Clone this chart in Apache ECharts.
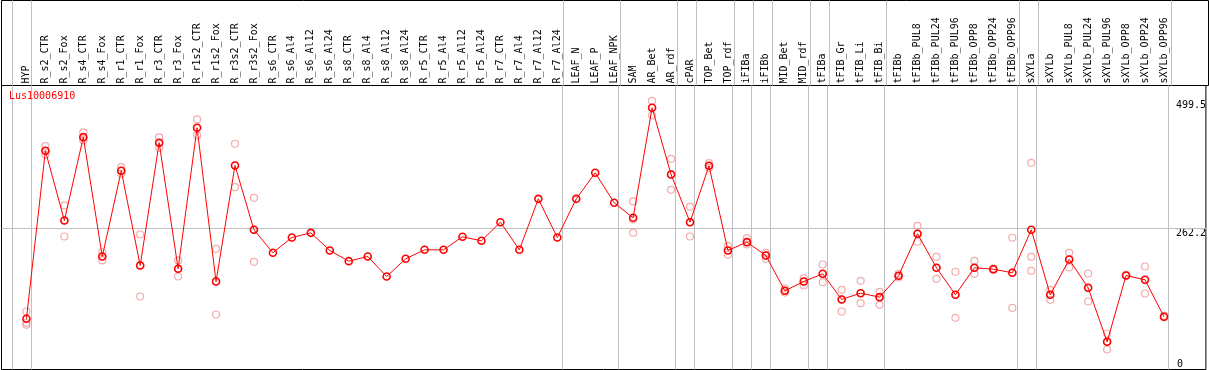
<!DOCTYPE html>
<html>
<head>
<meta charset="utf-8">
<script src="https://cdn.jsdelivr.net/npm/echarts@6/dist/echarts.min.js"></script>
<style>
html,body{margin:0;padding:0;background:#fff;}
#chart{width:1209px;height:370px;}
</style>
</head>
<body>
<div id="chart"></div>
<script>
const geneName = 'Lus10006910';

const categories = [
  'HYP','R_s2_CTR','R_s2_Fox','R_s4_CTR','R_s4_Fox','R_r1_CTR','R_r1_Fox','R_r3_CTR','R_r3_Fox',
  'R_r1s2_CTR','R_r1s2_Fox','R_r3s2_CTR','R_r3s2_Fox','R_s6_CTR','R_s6_Al4','R_s6_Al12','R_s6_Al24',
  'R_s8_CTR','R_s8_Al4','R_s8_Al12','R_s8_Al24','R_r5_CTR','R_r5_Al4','R_r5_Al12','R_r5_Al24',
  'R_r7_CTR','R_r7_Al4','R_r7_Al12','R_r7_Al24','LEAF_N','LEAF_P','LEAF_NPK','SAM','AR_Bet','AR_rdf',
  'cPAR','TOP_Bet','TOP_rdf','iFIBa','iFIBb','MID_Bet','MID_rdf','tFIBa','tFIB_Gr','tFIB_Li','tFIB_Bi',
  'tFIBb','tFIBb_PUL8','tFIBb_PUL24','tFIBb_PUL96','tFIBb_OPP8','tFIBb_OPP24','tFIBb_OPP96',
  'sXYLa','sXYLb','sXYLb_PUL8','sXYLb_PUL24','sXYLb_PUL96','sXYLb_OPP8','sXYLb_OPP24','sXYLb_OPP96'
];

const means = [
  94.3, 406.6, 277, 432, 210, 369.4, 193.4, 421.5, 187.2,
  449.4, 163.6, 379.3, 259.7, 217, 245.4, 254.1, 221.3,
  201.4, 210.1, 172.9, 205.8, 222.5, 222.5, 246.7, 239.3,
  273.9, 222.5, 317.3, 245.4, 317.3, 365.7, 309.9, 282, 486.6, 362.6,
  273.9, 378.7, 221.3, 236.8, 212, 146.3, 163.6, 177.9, 130.2, 141.9, 134.5,
  174.2, 252.3, 189.1, 138.9, 189.1, 186.5, 179.8,
  259.7, 138.9, 204.5, 151.9, 51.5, 174.8, 166.8, 98
];

const replicates = [
  [107.8, 86.8, 83.1], [415.2, 406.6, 399.2], [305, 277, 247.3], [440.7, 432, 425.8], [218, 210, 202.7],
  [376.2, 369.4, 363.9], [251, 193.4, 135.7], [431.4, 421.5, 412.2], [202.7, 187.2, 172.9],
  [464.9, 449.4, 435.1], [224.4, 163.6, 102.3], [419.7, 379.3, 339], [319.2, 259.7, 200.2],
  [], [], [], [], [], [], [], [], [], [], [], [], [], [], [], [], [], [], [],
  [312.4, 279, 254.2], [499.5, 486.6, 472.3], [391.7, 362.6, 334.1],
  [302.5, 273.9, 247.3], [383.6, 378.7, 375], [229.3, 221.3, 213.3], [244.2, 236.8, 232.4], [217, 212, 205.8],
  [150.6, 146.3, 143], [169.8, 163.6, 156.2], [195.2, 177.9, 162.3], [148.2, 130.2, 107.8],
  [164.9, 141.9, 123.3], [144.5, 134.5, 120.3],
  [178, 174.2, 171], [267.2, 252.3, 237.5], [209.5, 189.1, 168.6], [181.7, 138.9, 96.1],
  [202.1, 189.1, 177.9], [188, 185], [244.9, 179.8, 114.7],
  [384.3, 209.5, 183.5], [148.2, 138.9, 129.6], [217, 204.5, 189.7], [178.5, 151.9, 126.4],
  [66.9, 51.5, 37.2], [176, 174], [191.5, 166.8, 141.3], [100, 97]
];

// index of last category in each group (separator drawn after it)
const groupEnds = [-1, 0, 28, 31, 34, 35, 37, 38, 39, 41, 42, 45, 52, 53, 60];
const yTickLabels = [0, 262.2, 499.5];
const midLine = 262.2;

const FONT = 'DejaVu Sans Mono';
const W = 1209;
const gridLeft = 1.5, gridRight = 0.5;
const firstX = 26.5, step = 19;
const xMin = (gridLeft - firstX) / step;
const xMax = (W - gridRight - firstX) / step;
const yMax = 528;

const meanData = means.map((v, i) => [i, v]);
const repData = [];
replicates.forEach((arr, i) => arr.forEach(v => repData.push([i, v])));

const sepLines = groupEnds.map(i => ({ xAxis: i + 0.24 }));
const sepStyle = { color: '#c0c0c0', width: 1, type: 'solid' };

const chart = echarts.init(document.getElementById('chart'), null, { renderer: 'canvas' });
chart.setOption({
  animation: false,
  backgroundColor: '#fff',
  title: {
    text: geneName, left: 9, top: 91, padding: 0,
    textStyle: { color: '#ff0000', fontFamily: FONT, fontSize: 10, fontWeight: 'normal' }
  },
  grid: [
    { left: gridLeft, right: gridRight, top: 85.5, bottom: 0.5, show: true, borderColor: '#000', borderWidth: 1, backgroundColor: 'transparent' },
    { left: gridLeft, right: gridRight, top: 0.5, height: 85, show: true, borderColor: '#000', borderWidth: 1, backgroundColor: 'transparent' }
  ],
  xAxis: [
    {
      gridIndex: 0, type: 'value', position: 'top', min: xMin, max: xMax,
      axisLine: { show: false }, axisTick: { show: false }, splitLine: { show: false },
      axisLabel: {
        customValues: categories.map((c, i) => i),
        formatter: v => categories[Math.round(v)] || '',
        rotate: 90, margin: 2, hideOverlap: false, showMinLabel: true, showMaxLabel: true,
        fontFamily: FONT, fontSize: 10, color: '#000'
      }
    },
    { gridIndex: 1, type: 'value', min: xMin, max: xMax, show: false }
  ],
  yAxis: [
    {
      gridIndex: 0, type: 'value', min: 0, max: yMax, position: 'right', offset: -30,
      axisLine: { show: false }, axisTick: { show: false }, splitLine: { show: false },
      axisLabel: {
        customValues: yTickLabels.filter(v => v > 0),
        align: 'left', verticalAlign: 'top', margin: 0,
        showMinLabel: true, showMaxLabel: true,
        fontFamily: FONT, fontSize: 10, color: '#000',
        formatter: v => String(v)
      }
    },
    {
      gridIndex: 0, type: 'value', min: 0, max: yMax, position: 'right', offset: -30,
      axisLine: { show: false }, axisTick: { show: false }, splitLine: { show: false },
      axisLabel: {
        customValues: yTickLabels.filter(v => v === 0),
        align: 'left', verticalAlign: 'bottom', margin: 1,
        showMinLabel: true, showMaxLabel: true,
        fontFamily: FONT, fontSize: 10, color: '#000',
        formatter: v => String(v)
      }
    },
    { gridIndex: 1, type: 'value', min: 0, max: 1, show: false }
  ],
  series: [
    {
      type: 'scatter', xAxisIndex: 0, yAxisIndex: 0, data: repData, silent: true,
      symbol: 'circle', symbolSize: 7, z: 2,
      itemStyle: { color: 'rgba(255,255,255,0)', borderColor: '#f09696', borderWidth: 1.2 },
      markLine: {
        silent: true, symbol: 'none', label: { show: false }, lineStyle: sepStyle, z: 1,
        data: sepLines.concat([{ yAxis: midLine }])
      }
    },
    {
      type: 'line', xAxisIndex: 0, yAxisIndex: 0, data: meanData, silent: true,
      symbol: 'circle', symbolSize: 7, showAllSymbol: true, z: 3,
      lineStyle: { color: '#ff0000', width: 1 },
      itemStyle: { color: 'rgba(255,255,255,0)', borderColor: '#ff0000', borderWidth: 1.6 }
    },
    {
      type: 'line', xAxisIndex: 1, yAxisIndex: 2, data: [], silent: true, symbol: 'none',
      markLine: {
        silent: true, symbol: 'none', label: { show: false }, lineStyle: sepStyle,
        data: sepLines
      }
    }
  ]
});
</script>
</body>
</html>
